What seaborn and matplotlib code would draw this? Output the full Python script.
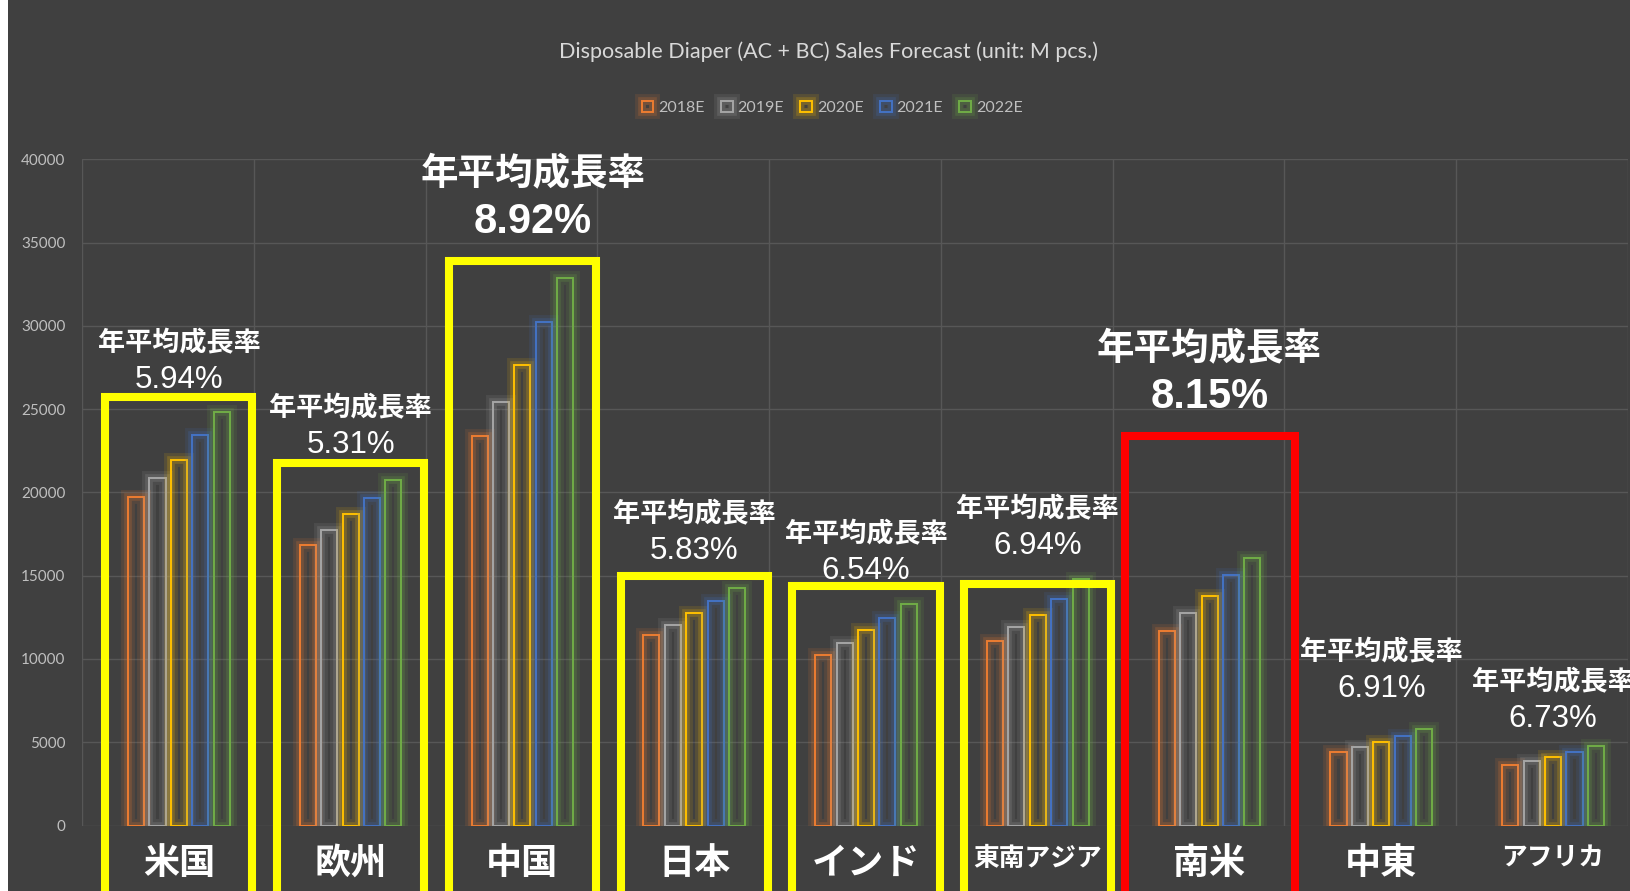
import numpy as np
import pandas as pd
import matplotlib
matplotlib.use('Agg')
import matplotlib.pyplot as plt
import matplotlib.patheffects as pe
from matplotlib.patches import Rectangle
import seaborn as sns

# Data (unit: M pcs.)
regions = ['米国', '欧州', '中国', '日本', 'インド', '東南アジア', '南米', '中東', 'アフリカ']
years = ['2018E', '2019E', '2020E', '2021E', '2022E']
sales_2018 = [19700, 16850, 23400, 11450, 10250, 11100, 11650, 4400, 3650]
sales_2019 = [20850, 17750, 25400, 12030, 10980, 11930, 12750, 4700, 3850]
sales_2020 = [21950, 18700, 27650, 12770, 11740, 12650, 13750, 5020, 4120]
sales_2021 = [23450, 19650, 30250, 13500, 12460, 13600, 15050, 5380, 4400]
sales_2022 = [24850, 20750, 32850, 14270, 13320, 14780, 16080, 5810, 4760]
cagr = ['5.94%', '5.31%', '8.92%', '5.83%', '6.54%', '6.94%', '8.15%', '6.91%', '6.73%']
cagr_big = [False, False, True, False, False, False, True, False, False]
highlight_top = [25700, 21750, 33900, 14970, 14370, 14490, 23400, None, None]
highlight_color = ['#ffff00'] * 6 + ['#ff0000', None, None]

bg = '#404040'
grid_col = '#575757'
year_colors = ['#ED7D31', '#A5A5A5', '#FFC000', '#4472C4', '#70AD47']
jp_font = ['Noto Sans CJK JP', 'DejaVu Sans']
num_font = ['Liberation Sans', 'DejaVu Sans']

df = pd.DataFrame({'region': regions, '2018E': sales_2018, '2019E': sales_2019,
                   '2020E': sales_2020, '2021E': sales_2021, '2022E': sales_2022})
df = df.melt(id_vars='region', var_name='year', value_name='sales')

sns.set_style('dark')
plt.rcParams['font.family'] = jp_font

fig = plt.figure(figsize=(16.3, 8.91), dpi=100)
fig.patch.set_facecolor('white')
fig.patches.append(Rectangle((8 / 1630, 0), 1, 1, transform=fig.transFigure,
                             facecolor=bg, edgecolor='none', zorder=-5))
ax = fig.add_axes([82 / 1630, 65.5 / 891, 1546 / 1630, 666.2 / 891])
ax.set_facecolor(bg)

sns.barplot(data=df, x='region', y='sales', hue='year', hue_order=years,
            palette=year_colors, fill=False, width=0.623, gap=0.25,
            linewidth=1.4, errorbar=None, ax=ax)

# soft glow round each bar
for bar in ax.patches:
    c = bar.get_edgecolor()
    bar.set_path_effects([pe.Stroke(linewidth=10, foreground=c, alpha=0.12),
                          pe.Stroke(linewidth=5.5, foreground=c, alpha=0.2),
                          pe.Normal()])

# axes
off = 0.064
ax.set_xlim(-0.5 - off, 8.5 - off)
ax.set_ylim(0, 40000)
ax.set_yticks(range(0, 40001, 5000))
ax.set_xticks(np.arange(10) - 0.5 - off, minor=True)
ax.set_axisbelow(True)
ax.yaxis.grid(True, color=grid_col, lw=1.0)
ax.xaxis.grid(False, which='major')
ax.xaxis.grid(True, which='minor', color=grid_col, lw=1.0)
for s in ax.spines.values():
    s.set_visible(False)
ax.tick_params(axis='y', length=0, pad=12, labelcolor='#bfbfbf', labelsize=11)
ax.tick_params(axis='x', which='both', length=0, pad=14, labelcolor='white')
for lab in ax.get_yticklabels():
    lab.set_family(['Lato', 'DejaVu Sans'])
ax.set_xlabel('')
ax.set_ylabel('')
for lab in ax.get_xticklabels():
    txt = lab.get_text()
    lab.set_fontweight('bold')
    lab.set_fontsize(18.5 if txt in ('東南アジア', 'アフリカ') else 26)

# highlight boxes
for i, (top, col) in enumerate(zip(highlight_top, highlight_color)):
    if top is None:
        continue
    w = 0.99 if col == '#ff0000' else 0.856
    ax.add_patch(Rectangle((i - w / 2, -9000), w, top + 9000, fill=False,
                           edgecolor=col, lw=5.8, clip_on=False, zorder=4,
                           joinstyle='miter'))

# growth rate labels
label_y = [26730, 22830, 36210, 16470, 15270, 16770, 25710, 8190, 6390]
for i, (pct, big, y) in enumerate(zip(cagr, cagr_big, label_y)):
    x = i + (0.06 if regions[i] == '中国' else 0)
    ax.text(x, y, pct, ha='center', va='center', color='white', family=num_font,
            fontsize=30 if big else 22.5, fontweight='bold' if big else 'normal',
            zorder=5, clip_on=False)
    ax.annotate('年平均成長率', (x, y), xytext=(0, 35 if big else 26.5),
                textcoords='offset points', ha='center', va='center',
                color='white', family=jp_font, fontweight='bold',
                fontsize=27 if big else 19.5, zorder=5, annotation_clip=False)

# title and legend
fig.text(829 / 1630, 1 - 52 / 891,
         'Disposable Diaper (AC + BC) Sales Forecast (unit: M pcs.)',
         ha='center', va='center', color='#d9d9d9', fontsize=15.5,
         family=['Lato', 'DejaVu Sans'])
handles, labels = ax.get_legend_handles_labels()
ax.legend_.remove()
fig.legend(handles, labels, loc='center', bbox_to_anchor=(832 / 1630, 1 - 108 / 891),
           ncol=5, frameon=False, handlelength=0.75, handleheight=0.75,
           handletextpad=0.3, columnspacing=1.0, labelcolor='#bfbfbf',
           prop={'family': ['Lato', 'DejaVu Sans'], 'size': 11.5})

fig.savefig('out.png', dpi=100, facecolor=fig.get_facecolor())
